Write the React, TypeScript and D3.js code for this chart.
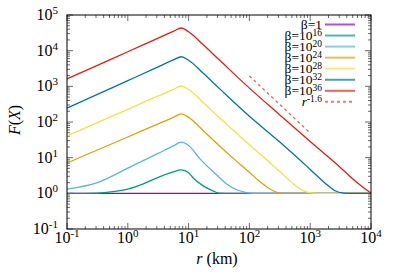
import React from "react";
import * as d3 from "d3";

// r (km), F(X) samples
const seriesNames = ["1", "16", "20", "24", "28", "32", "36"];
const seriesColors = ["#9400d3", "#009e73", "#56b4e9", "#e69f00", "#f0e442", "#0072b2", "#e51e10"];

const beta1: [number, number][] = [[0.1, 1], [10000, 1]];
const beta16: [number, number][] = [
  [0.1, 1.0], [0.316, 1.02], [0.66, 1.15], [1, 1.32], [1.8, 1.85], [3.39, 2.95], [5.62, 3.98], [7.6, 4.57],
  [10, 3.8], [11.9, 2.7], [17.4, 1.62], [25.7, 1.15], [31.6, 1.02], [50, 1.0], [10000, 1],
];
const beta20: [number, number][] = [
  [0.1, 1.31], [0.316, 2.0], [1, 5.1], [3.16, 13.2], [5.62, 21.4], [7.6, 27.2], [10, 21.9],
  [15.5, 9.1], [28.8, 3.3], [41.7, 1.86], [61.7, 1.26], [90, 1.05], [120, 1.0], [10000, 1],
];
const beta24: [number, number][] = [
  [0.1, 7.08], [0.316, 16.4], [1, 38], [3.16, 89], [5.62, 135], [7.6, 170], [10, 135], [17.8, 55],
  [31.6, 21.9], [56.2, 9.1], [100, 3.9], [148, 2.14], [219, 1.32], [316, 1.02], [450, 1.0], [10000, 1],
];
const beta28: [number, number][] = [
  [0.1, 40.7], [0.316, 95.5], [1, 226], [3.16, 537], [5.62, 822], [7.6, 1023], [10, 813], [17.8, 339],
  [31.6, 135], [56.2, 56], [100, 22.9], [178, 9.8], [316, 4.07], [562, 1.7], [794, 1.15], [1120, 1.02], [1600, 1.0], [10000, 1],
];
const beta32: [number, number][] = [
  [0.1, 245], [0.316, 596], [1, 1445], [3.16, 3510], [5.62, 5500], [7.6, 6760], [10, 5370], [17.8, 2240],
  [31.6, 891], [100, 145], [316, 27.5], [562, 11.5], [1000, 4.68], [1780, 1.9], [2510, 1.2], [3550, 1.02], [5000, 1.0], [10000, 1],
];
const beta36: [number, number][] = [
  [0.1, 1620], [0.316, 3890], [1, 9330], [3.16, 22400], [5.62, 34700], [7.6, 43200], [10, 34000], [17.8, 14100],
  [31.6, 5620], [100, 891], [316, 158], [1000, 28.2], [3160, 5.25], [5620, 2.14], [7940, 1.35], [10000, 1.02],
];
const seriesData = [beta1, beta16, beta20, beta24, beta28, beta32, beta36];

const refLine: [number, number][] = [[100, 1950], [1000, 49]];

const xTicks = [0.1, 1, 10, 100, 1000, 10000];
const xTickExp = ["-1", "0", "1", "2", "3", "4"];
const yTicks = [0.1, 1, 10, 100, 1000, 10000, 100000];
const yTickExp = ["-1", "0", "1", "2", "3", "4", "5"];

const W = 399, H = 279;
const L = 67, R = 371, T = 15, B = 229;
const FONT = "'Liberation Serif'";
const tf = { fontFamily: FONT };

export default function App() {
  const x = d3.scaleLog().domain([0.1, 1e4]).range([L, R]);
  const y = d3.scaleLog().domain([0.1, 1e5]).range([B, T]);
  const line = d3.line<[number, number]>().x(d => x(d[0])).y(d => y(d[1])).curve(d3.curveMonotoneX);

  const xMinor: number[] = [];
  for (let e = -1; e < 4; e++) for (let k = 2; k <= 9; k++) xMinor.push(k * Math.pow(10, e));
  const yMinor: number[] = [];
  for (let e = -1; e < 5; e++) for (let k = 2; k <= 9; k++) yMinor.push(k * Math.pow(10, e));

  const tickCol = "#444";
  const legendX = 322, lx1 = 325, lx2 = 355;
  const rowY = (i: number) => 24.5 + i * 11.05;

  return (
    <svg width={W} height={H} style={{ position: "absolute", left: 0, top: 0, background: "#fff" }}>
      <rect x={0} y={0} width={W} height={H} fill="#fff" />
      {/* ticks */}
      <g stroke={tickCol} strokeWidth={0.8}>
        {xTicks.map((t, i) => (
          <g key={"xt" + i}>
            <line x1={x(t)} x2={x(t)} y1={B} y2={B - 6} />
            <line x1={x(t)} x2={x(t)} y1={T} y2={T + 6} />
          </g>
        ))}
        {xMinor.map((t, i) => (
          <g key={"xm" + i}>
            <line x1={x(t)} x2={x(t)} y1={B} y2={B - 3} />
            <line x1={x(t)} x2={x(t)} y1={T} y2={T + 3} />
          </g>
        ))}
        {yTicks.map((t, i) => (
          <g key={"yt" + i}>
            <line x1={L} x2={L + 6} y1={y(t)} y2={y(t)} />
            <line x1={R} x2={R - 6} y1={y(t)} y2={y(t)} />
          </g>
        ))}
        {yMinor.map((t, i) => (
          <g key={"ym" + i}>
            <line x1={L} x2={L + 3} y1={y(t)} y2={y(t)} />
            <line x1={R} x2={R - 3} y1={y(t)} y2={y(t)} />
          </g>
        ))}
      </g>
      {/* curves */}
      <g fill="none" strokeWidth={1.3}>
        {seriesData.map((d, i) => (
          <path key={"s" + i} d={line(d) || ""} stroke={seriesColors[i]} />
        ))}
        <path d={line(refLine) || ""} stroke="#e51e10" strokeOpacity={0.7} strokeDasharray="3,3" />
      </g>
      <rect x={L} y={T} width={R - L} height={B - T} fill="none" stroke="#000" strokeWidth={1} />
      {/* tick labels */}
      <g fontSize={16} fill="#000">
        {xTicks.map((t, i) => (
          <text key={"xl" + i} x={x(t)} y={243} textAnchor="middle" style={tf}>
            10<tspan dy={-6} fontSize={11}>{xTickExp[i]}</tspan>
          </text>
        ))}
        {yTicks.map((t, i) => (
          <text key={"yl" + i} x={58} y={y(t) + 5} textAnchor="end" style={tf}>
            10<tspan dy={-6} fontSize={11}>{yTickExp[i]}</tspan>
          </text>
        ))}
      </g>
      {/* axis labels */}
      <text x={217} y={264} textAnchor="middle" fontSize={16} style={tf}>
        <tspan fontStyle="italic">r</tspan> (km)
      </text>
      <text transform={`translate(20,120) rotate(-90)`} textAnchor="middle" fontSize={16} style={tf}>
        <tspan fontStyle="italic">F</tspan>(<tspan fontStyle="italic">X</tspan>)
      </text>
      {/* legend */}
      <g fontSize={13.5}>
        {seriesNames.map((n, i) => (
          <g key={"lg" + i}>
            <text x={legendX} y={rowY(i) + 4.5} textAnchor="end" style={tf}>
              {n === "1" ? "β=1" : <>β=10<tspan dy={-4.5} fontSize={9.5}>{n}</tspan></>}
            </text>
            <line x1={lx1} x2={lx2} y1={rowY(i)} y2={rowY(i)} stroke={seriesColors[i]} strokeWidth={2} strokeOpacity={0.7} />
          </g>
        ))}
        <text x={legendX} y={rowY(7) + 4.5} textAnchor="end" style={tf}>
          <tspan fontStyle="italic">r</tspan><tspan dy={-4.5} fontSize={9.5}>-1.6</tspan>
        </text>
        <line x1={lx1} x2={lx2} y1={rowY(7)} y2={rowY(7)} stroke="#e51e10" strokeWidth={2} strokeOpacity={0.6} strokeDasharray="3,3" />
      </g>
    </svg>
  );
}
